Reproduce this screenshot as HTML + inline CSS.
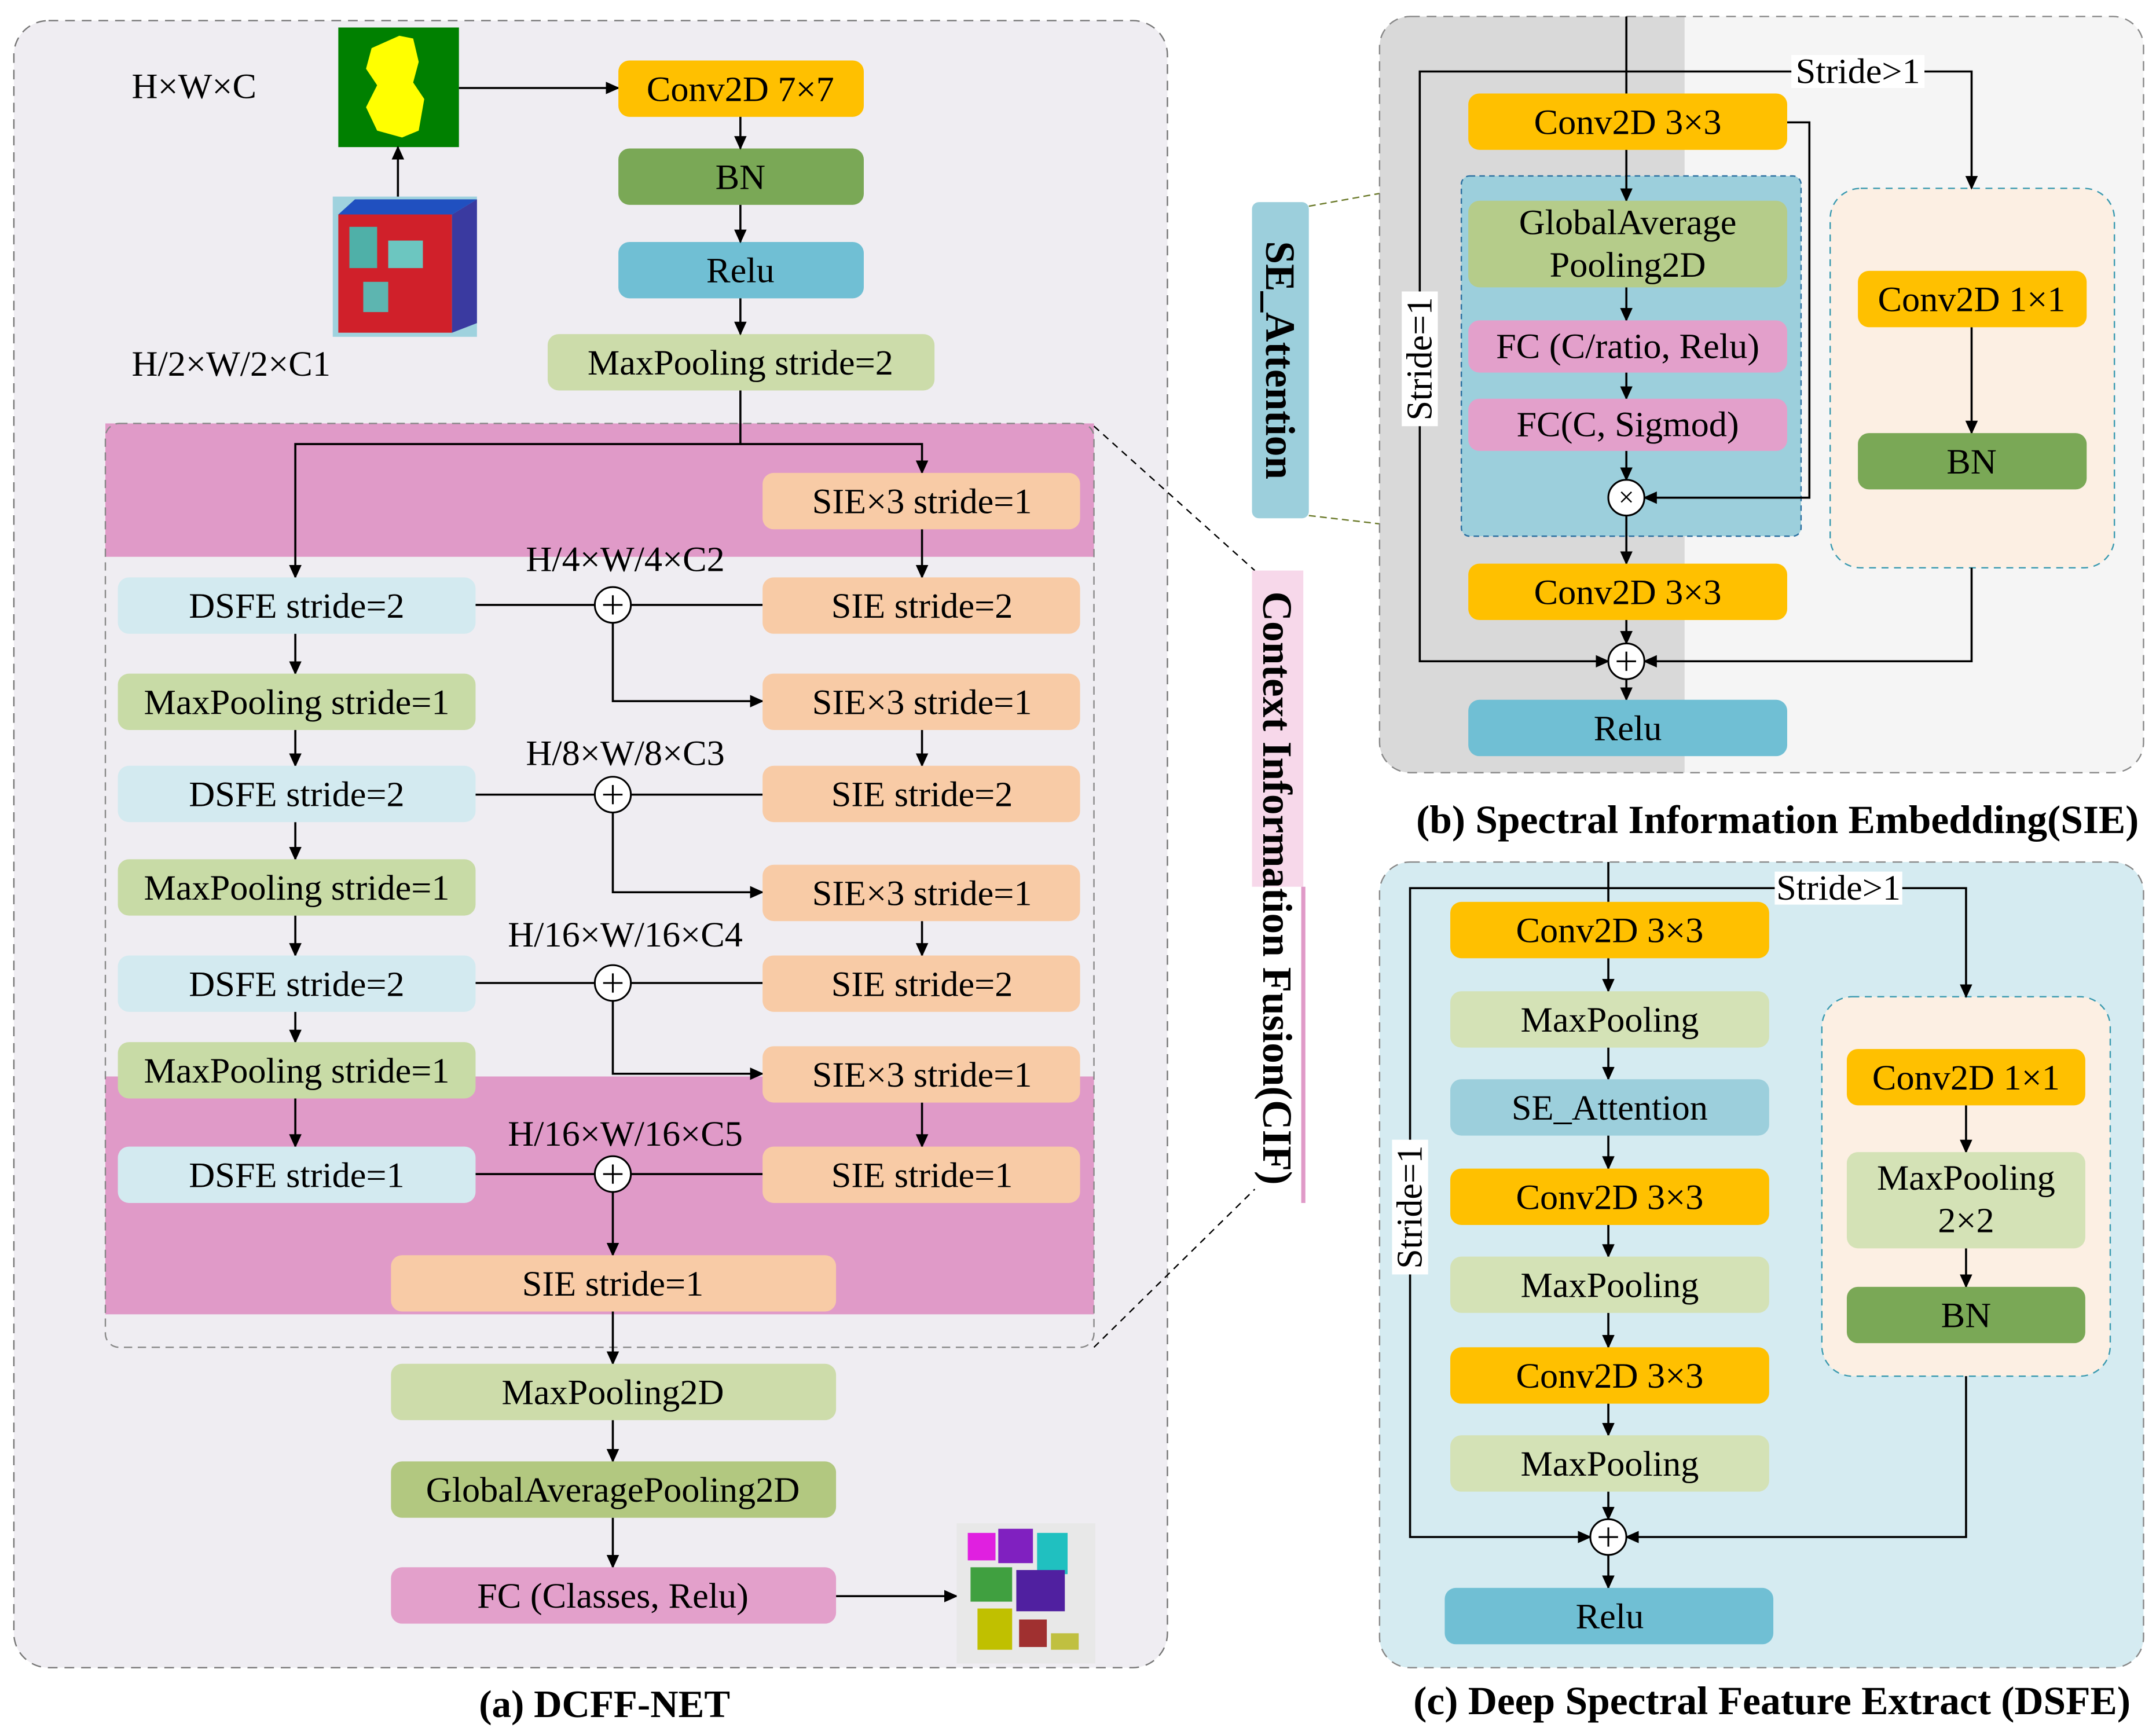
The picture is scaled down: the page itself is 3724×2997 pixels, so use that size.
<!DOCTYPE html>
<html><head><meta charset="utf-8"><style>
html,body{margin:0;padding:0;background:#fff;}
svg{display:block;}
text{font-family:"Liberation Serif",serif;}
</style></head><body>
<svg width="3724" height="2997" viewBox="0 0 1555 1262" preserveAspectRatio="none" xmlns="http://www.w3.org/2000/svg">
<defs>
<marker id="a" markerWidth="10" markerHeight="10" refX="9" refY="5" orient="auto" markerUnits="userSpaceOnUse"><path d="M0,0.5 L10,5 L0,9.5 z" fill="#000"/></marker>
</defs>
<g font-size="26" text-anchor="middle" dominant-baseline="central">
<!-- Panel a -->
<rect x="10" y="15" width="832" height="1198" rx="25" fill="#efedf2" stroke="#777" stroke-dasharray="7,5"/>
<text x="95" y="63" text-anchor="start">H×W×C</text>
<text x="95" y="265" text-anchor="start">H/2×W/2×C1</text>
<rect x="244" y="20" width="87" height="87" fill="#008000"/>
<path d="M268,35 L288,26 L298,28 L302,45 L298,60 L306,72 L302,95 L290,100 L272,95 L264,78 L272,62 L264,50 z" fill="#ffff00"/>
<rect x="240" y="143" width="104" height="102" fill="#9fd2de"/>
<rect x="244" y="156" width="82" height="86" fill="#d0202a"/>
<rect x="252" y="165" width="20" height="30" fill="#4fb0a8"/>
<rect x="280" y="175" width="25" height="20" fill="#6cc6c0"/>
<rect x="262" y="205" width="18" height="22" fill="#5db5b0"/>
<polygon points="244,156 256,145 344,145 326,156" fill="#2050c0"/>
<polygon points="326,156 344,145 344,235 326,242" fill="#3a3aa0"/>
<line x1="287" y1="143" x2="287" y2="107" stroke="#000" stroke-width="1.5" marker-end="url(#a)"/>
<line x1="331" y1="64" x2="446" y2="64" stroke="#000" stroke-width="1.5" marker-end="url(#a)"/>
<rect x="446" y="44" width="177" height="41" rx="8" fill="#ffc000"/><text x="534" y="65">Conv2D 7×7</text>
<rect x="446" y="108" width="177" height="41" rx="8" fill="#7aa856"/><text x="534" y="129">BN</text>
<rect x="446" y="176" width="177" height="41" rx="8" fill="#70bfd4"/><text x="534" y="197">Relu</text>
<rect x="395" y="243" width="279" height="41" rx="8" fill="#ccdcaa"/><text x="534" y="264">MaxPooling stride=2</text>
<g stroke="#000" stroke-width="1.5" fill="none">
<line x1="534" y1="85" x2="534" y2="108" marker-end="url(#a)"/>
<line x1="534" y1="149" x2="534" y2="176" marker-end="url(#a)"/>
<line x1="534" y1="217" x2="534" y2="243" marker-end="url(#a)"/>
</g>
<!-- CIF region -->
<rect x="76" y="308" width="713" height="97" fill="#e09ac8"/>
<rect x="76" y="783" width="713" height="173" fill="#e09ac8"/>
<rect x="76" y="308" width="713" height="672" rx="10" fill="none" stroke="#888" stroke-dasharray="6,4"/>
<line x1="789" y1="310" x2="905" y2="415" stroke="#000" stroke-dasharray="5,4"/>
<line x1="789" y1="980" x2="905" y2="865" stroke="#000" stroke-dasharray="5,4"/>
<g stroke="#000" stroke-width="1.5" fill="none">
<polyline points="534,284 534,323 213,323 213,420" marker-end="url(#a)"/>
<polyline points="534,323 665,323 665,344" marker-end="url(#a)"/>
<line x1="665" y1="385" x2="665" y2="420" marker-end="url(#a)"/>
<line x1="213" y1="461" x2="213" y2="490" marker-end="url(#a)"/>
<line x1="213" y1="531" x2="213" y2="557" marker-end="url(#a)"/>
<line x1="213" y1="598" x2="213" y2="625" marker-end="url(#a)"/>
<line x1="213" y1="666" x2="213" y2="695" marker-end="url(#a)"/>
<line x1="213" y1="736" x2="213" y2="758" marker-end="url(#a)"/>
<line x1="213" y1="799" x2="213" y2="834" marker-end="url(#a)"/>
<line x1="665" y1="531" x2="665" y2="557" marker-end="url(#a)"/>
<line x1="665" y1="670" x2="665" y2="695" marker-end="url(#a)"/>
<line x1="665" y1="802" x2="665" y2="834" marker-end="url(#a)"/>
<line x1="343" y1="440" x2="550" y2="440"/>
<line x1="343" y1="578" x2="550" y2="578"/>
<line x1="343" y1="715" x2="550" y2="715"/>
<line x1="343" y1="854" x2="550" y2="854"/>
<polyline points="442,453 442,510 550,510" marker-end="url(#a)"/>
<polyline points="442,591 442,649 550,649" marker-end="url(#a)"/>
<polyline points="442,728 442,781 550,781" marker-end="url(#a)"/>
<line x1="442" y1="867" x2="442" y2="913" marker-end="url(#a)"/>
<line x1="442" y1="954" x2="442" y2="992" marker-end="url(#a)"/>
<line x1="442" y1="1033" x2="442" y2="1063" marker-end="url(#a)"/>
<line x1="442" y1="1104" x2="442" y2="1140" marker-end="url(#a)"/>
<line x1="603" y1="1161" x2="690" y2="1161" marker-end="url(#a)"/>
</g>
<g>
<rect x="85" y="420" width="258" height="41" rx="8" fill="#d3eaf0"/><text x="214" y="441">DSFE stride=2</text>
<rect x="85" y="490" width="258" height="41" rx="8" fill="#c8dba6"/><text x="214" y="511">MaxPooling stride=1</text>
<rect x="85" y="557" width="258" height="41" rx="8" fill="#d3eaf0"/><text x="214" y="578">DSFE stride=2</text>
<rect x="85" y="625" width="258" height="41" rx="8" fill="#c8dba6"/><text x="214" y="646">MaxPooling stride=1</text>
<rect x="85" y="695" width="258" height="41" rx="8" fill="#d3eaf0"/><text x="214" y="716">DSFE stride=2</text>
<rect x="85" y="758" width="258" height="41" rx="8" fill="#c8dba6"/><text x="214" y="779">MaxPooling stride=1</text>
<rect x="85" y="834" width="258" height="41" rx="8" fill="#d3eaf0"/><text x="214" y="855">DSFE stride=1</text>
</g>
<g fill="#f8cba6">
<rect x="550" y="344" width="229" height="41" rx="8"/><rect x="550" y="420" width="229" height="41" rx="8"/>
<rect x="550" y="490" width="229" height="41" rx="8"/><rect x="550" y="557" width="229" height="41" rx="8"/>
<rect x="550" y="629" width="229" height="41" rx="8"/><rect x="550" y="695" width="229" height="41" rx="8"/>
<rect x="550" y="761" width="229" height="41" rx="8"/><rect x="550" y="834" width="229" height="41" rx="8"/>
<rect x="282" y="913" width="321" height="41" rx="8"/>
</g>
<text x="665" y="365">SIE×3 stride=1</text><text x="665" y="441">SIE stride=2</text>
<text x="665" y="511">SIE×3 stride=1</text><text x="665" y="578">SIE stride=2</text>
<text x="665" y="650">SIE×3 stride=1</text><text x="665" y="716">SIE stride=2</text>
<text x="665" y="782">SIE×3 stride=1</text><text x="665" y="855">SIE stride=1</text>
<text x="442" y="934">SIE stride=1</text>
<g fill="#fff" stroke="#000" stroke-width="1.3">
<circle cx="442" cy="440" r="13"/><circle cx="442" cy="578" r="13"/><circle cx="442" cy="715" r="13"/><circle cx="442" cy="854" r="13"/>
</g>
<g stroke="#000" stroke-width="1.3">
<path d="M435,440h14M442,433v14"/><path d="M435,578h14M442,571v14"/><path d="M435,715h14M442,708v14"/><path d="M435,854h14M442,847v14"/>
</g>
<text x="451" y="407">H/4×W/4×C2</text><text x="451" y="548">H/8×W/8×C3</text>
<text x="451" y="680">H/16×W/16×C4</text><text x="451" y="825">H/16×W/16×C5</text>
<rect x="282" y="992" width="321" height="41" rx="8" fill="#cddcaa"/><text x="442" y="1013">MaxPooling2D</text>
<rect x="282" y="1063" width="321" height="41" rx="8" fill="#b2c880"/><text x="442" y="1084">GlobalAveragePooling2D</text>
<rect x="282" y="1140" width="321" height="41" rx="8" fill="#e3a0cb"/><text x="442" y="1161">FC (Classes, Relu)</text>
<rect x="690" y="1108" width="100" height="102" fill="#e8e8e8"/>
<rect x="698" y="1115" width="20" height="20" fill="#e020e0"/><rect x="720" y="1112" width="25" height="25" fill="#8020c0"/>
<rect x="748" y="1115" width="22" height="30" fill="#20c0c0"/><rect x="700" y="1140" width="30" height="25" fill="#40a040"/>
<rect x="733" y="1142" width="35" height="30" fill="#5020a0"/><rect x="705" y="1170" width="25" height="30" fill="#c0c000"/>
<rect x="735" y="1178" width="20" height="20" fill="#a03030"/><rect x="758" y="1188" width="20" height="12" fill="#c0c040"/>
<text x="436" y="1240" font-weight="bold" font-size="28">(a) DCFF-NET</text>
<!-- CIF label -->
<rect x="903" y="415" width="37" height="230" fill="#f7d8ea"/>
<line x1="940" y1="645" x2="940" y2="875" stroke="#e09ac8" stroke-width="3"/>
<text transform="translate(921,646) rotate(90)" font-weight="bold" font-size="30">Context Information Fusion(CIF)</text>
<!-- SE label -->
<rect x="903" y="147" width="41" height="230" rx="5" fill="#9ccfdc"/>
<text transform="translate(923,262) rotate(90)" font-weight="bold" font-size="30">SE_Attention</text>
<line x1="944" y1="150" x2="1054" y2="130" stroke="#6b7a2a" stroke-dasharray="5,3"/>
<line x1="944" y1="375" x2="1054" y2="388" stroke="#6b7a2a" stroke-dasharray="5,3"/>
<!-- Panel b -->
<rect x="995" y="12" width="551" height="550" rx="22" fill="#f5f5f5"/>
<path d="M1017,12 H1215 V562 H1017 a22,22 0 0 1 -22,-22 V34 a22,22 0 0 1 22,-22z" fill="#d9d9d9"/>
<rect x="995" y="12" width="551" height="550" rx="22" fill="none" stroke="#888" stroke-dasharray="7,5"/>
<rect x="1054" y="128" width="245" height="262" rx="6" fill="#9ccfdc" stroke="#2a6fa0" stroke-dasharray="4,3"/>
<rect x="1320" y="137" width="205" height="276" rx="22" fill="#fcefe3" stroke="#3a9ab0" stroke-dasharray="5,4"/>
<g stroke="#000" stroke-width="1.5" fill="none">
<line x1="1173" y1="12" x2="1173" y2="68"/>
<polyline points="1173,52 1024,52 1024,481 1160,481" marker-end="url(#a)"/>
<polyline points="1173,52 1422,52 1422,137" marker-end="url(#a)"/>
<line x1="1173" y1="109" x2="1173" y2="146" marker-end="url(#a)"/>
<line x1="1173" y1="209" x2="1173" y2="233" marker-end="url(#a)"/>
<line x1="1173" y1="271" x2="1173" y2="290" marker-end="url(#a)"/>
<line x1="1173" y1="328" x2="1173" y2="349" marker-end="url(#a)"/>
<line x1="1173" y1="375" x2="1173" y2="410" marker-end="url(#a)"/>
<line x1="1173" y1="451" x2="1173" y2="468" marker-end="url(#a)"/>
<line x1="1173" y1="494" x2="1173" y2="509" marker-end="url(#a)"/>
<polyline points="1289,89 1305,89 1305,362 1186,362" marker-end="url(#a)"/>
<line x1="1422" y1="238" x2="1422" y2="315" marker-end="url(#a)"/>
<polyline points="1422,413 1422,481 1186,481" marker-end="url(#a)"/>
</g>
<rect x="1059" y="68" width="230" height="41" rx="8" fill="#ffc000"/><text x="1174" y="89">Conv2D 3×3</text>
<rect x="1059" y="146" width="230" height="63" rx="8" fill="#b5cc8a"/><text x="1174" y="162">GlobalAverage</text><text x="1174" y="193">Pooling2D</text>
<rect x="1059" y="233" width="230" height="38" rx="8" fill="#e3a0cb"/><text x="1174" y="252">FC (C/ratio, Relu)</text>
<rect x="1059" y="290" width="230" height="38" rx="8" fill="#e3a0cb"/><text x="1174" y="309">FC(C, Sigmod)</text>
<circle cx="1173" cy="362" r="13" fill="#fff" stroke="#000" stroke-width="1.3"/><text x="1173" y="362" font-size="20">×</text>
<rect x="1059" y="410" width="230" height="41" rx="8" fill="#ffc000"/><text x="1174" y="431">Conv2D 3×3</text>
<circle cx="1173" cy="481" r="13" fill="#fff" stroke="#000" stroke-width="1.3"/><path d="M1166,481h14M1173,474v14" stroke="#000" stroke-width="1.3"/>
<rect x="1059" y="509" width="230" height="41" rx="8" fill="#70bfd4"/><text x="1174" y="530">Relu</text>
<rect x="1340" y="197" width="165" height="41" rx="8" fill="#ffc000"/><text x="1422" y="218">Conv2D 1×1</text>
<rect x="1340" y="315" width="165" height="41" rx="8" fill="#7aa856"/><text x="1422" y="336">BN</text>
<rect x="1292" y="40" width="96" height="24" fill="#fff"/><text x="1340" y="52">Stride&gt;1</text>
<rect x="1011" y="212" width="26" height="98" fill="#fff"/><text transform="translate(1024,261) rotate(-90)">Stride=1</text>
<text x="1282" y="596" font-weight="bold" font-size="29">(b) Spectral Information Embedding(SIE)</text>
<!-- Panel c -->
<rect x="995" y="627" width="551" height="586" rx="22" fill="#d5ebf1" stroke="#888" stroke-dasharray="7,5"/>
<rect x="1314" y="725" width="208" height="276" rx="22" fill="#fcefe3" stroke="#3a9ab0" stroke-dasharray="5,4"/>
<g stroke="#000" stroke-width="1.5" fill="none">
<line x1="1160" y1="627" x2="1160" y2="656"/>
<polyline points="1160,646 1017,646 1017,1118 1147,1118" marker-end="url(#a)"/>
<polyline points="1160,646 1418,646 1418,725" marker-end="url(#a)"/>
<line x1="1160" y1="697" x2="1160" y2="721" marker-end="url(#a)"/>
<line x1="1160" y1="762" x2="1160" y2="785" marker-end="url(#a)"/>
<line x1="1160" y1="826" x2="1160" y2="850" marker-end="url(#a)"/>
<line x1="1160" y1="891" x2="1160" y2="914" marker-end="url(#a)"/>
<line x1="1160" y1="955" x2="1160" y2="980" marker-end="url(#a)"/>
<line x1="1160" y1="1021" x2="1160" y2="1044" marker-end="url(#a)"/>
<line x1="1160" y1="1085" x2="1160" y2="1105" marker-end="url(#a)"/>
<line x1="1160" y1="1131" x2="1160" y2="1155" marker-end="url(#a)"/>
<line x1="1418" y1="804" x2="1418" y2="838" marker-end="url(#a)"/>
<line x1="1418" y1="908" x2="1418" y2="936" marker-end="url(#a)"/>
<polyline points="1418,1001 1418,1118 1173,1118" marker-end="url(#a)"/>
</g>
<rect x="1046" y="656" width="230" height="41" rx="8" fill="#ffc000"/><text x="1161" y="677">Conv2D 3×3</text>
<rect x="1046" y="721" width="230" height="41" rx="8" fill="#d4e2b6"/><text x="1161" y="742">MaxPooling</text>
<rect x="1046" y="785" width="230" height="41" rx="8" fill="#9ccfdc"/><text x="1161" y="806">SE_Attention</text>
<rect x="1046" y="850" width="230" height="41" rx="8" fill="#ffc000"/><text x="1161" y="871">Conv2D 3×3</text>
<rect x="1046" y="914" width="230" height="41" rx="8" fill="#d4e2b6"/><text x="1161" y="935">MaxPooling</text>
<rect x="1046" y="980" width="230" height="41" rx="8" fill="#ffc000"/><text x="1161" y="1001">Conv2D 3×3</text>
<rect x="1046" y="1044" width="230" height="41" rx="8" fill="#d4e2b6"/><text x="1161" y="1065">MaxPooling</text>
<circle cx="1160" cy="1118" r="13" fill="#fff" stroke="#000" stroke-width="1.3"/><path d="M1153,1118h14M1160,1111v14" stroke="#000" stroke-width="1.3"/>
<rect x="1042" y="1155" width="237" height="41" rx="8" fill="#70bfd4"/><text x="1161" y="1176">Relu</text>
<rect x="1332" y="763" width="172" height="41" rx="8" fill="#ffc000"/><text x="1418" y="784">Conv2D 1×1</text>
<rect x="1332" y="838" width="172" height="70" rx="8" fill="#d4e2b6"/><text x="1418" y="857">MaxPooling</text><text x="1418" y="888">2×2</text>
<rect x="1332" y="936" width="172" height="41" rx="8" fill="#7aa856"/><text x="1418" y="957">BN</text>
<rect x="1280" y="634" width="92" height="24" fill="#fff"/><text x="1326" y="646">Stride&gt;1</text>
<rect x="1004" y="829" width="26" height="98" fill="#fff"/><text transform="translate(1017,878) rotate(-90)">Stride=1</text>
<text x="1278" y="1237" font-weight="bold" font-size="29">(c)  Deep Spectral Feature Extract (DSFE)</text>
</g>
</svg>
</body></html>
